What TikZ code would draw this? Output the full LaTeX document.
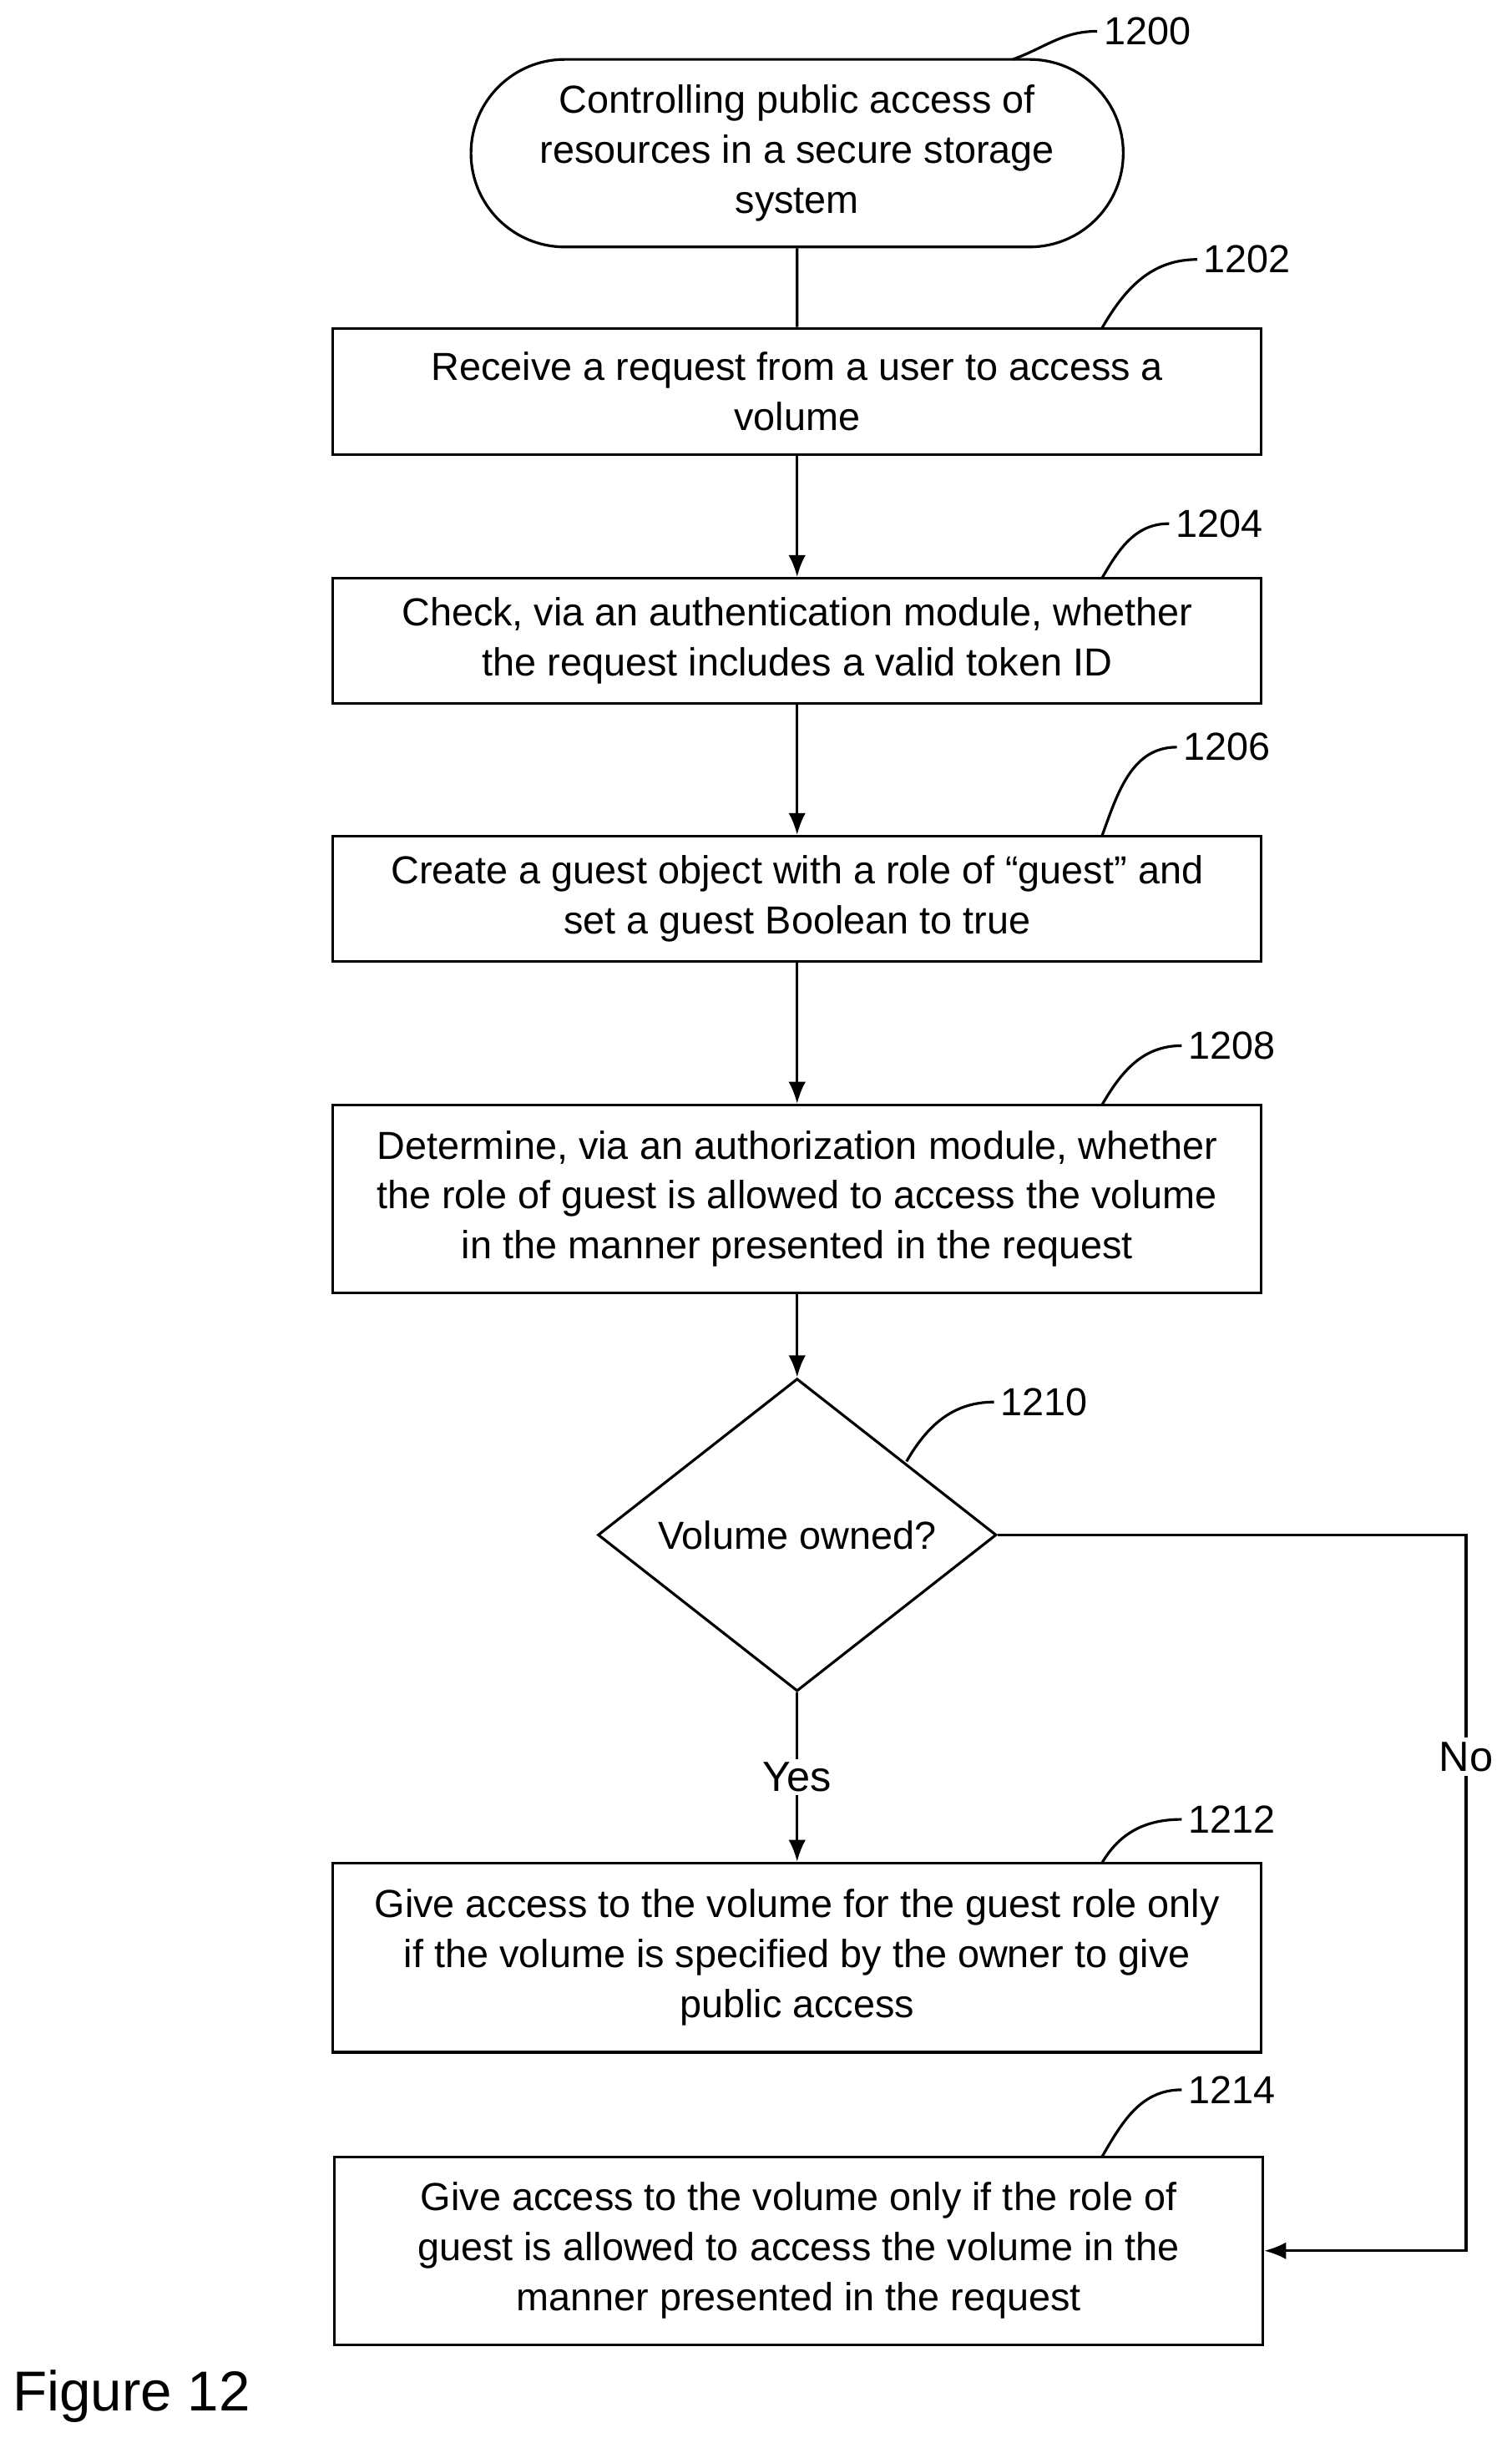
\documentclass[tikz,border=0pt]{standalone}
\usepackage{fontspec}
\setmainfont{Liberation Sans}
\usetikzlibrary{positioning,arrows.meta,shapes.geometric,shapes.misc}

\begin{document}
\begin{tikzpicture}[
    x=1pt, y=-1pt,
    >={Latex[length=14pt,width=11pt]},
    line width=1.7pt,
    font=\fontsize{25}{32}\selectfont,
    box/.style={
        draw,
        align=center,
        minimum width=594pt,
        inner sep=0pt
    },
    term/.style={
        draw,
        rounded rectangle,
        align=center,
        minimum width=424pt,
        minimum height=120pt
    },
    dec/.style={
        draw,
        diamond,
        aspect=1.275,
        minimum width=255pt,
        minimum height=200pt,
        inner sep=0pt
    },
    ref/.style={font=\fontsize{25}{28}\selectfont}
]
    \useasboundingbox (0,0) rectangle (967,1563);

    % Blocks
    \node[term] (start) at (510,98) {Controlling public access of\\resources in a secure storage\\system};
    \node[box, minimum height=81pt] (recv) at (510,250.5) {Receive a request from a user to access a\\volume};
    \node[box, minimum height=80pt] (check) at (510,410) {Check, via an authentication module, whether\\the request includes a valid token ID};
    \node[box, minimum height=80pt] (guest) at (510,575) {Create a guest object with a role of \textquotedblleft guest\textquotedblright\ and\\set a guest Boolean to true};
    \node[box, minimum height=120pt] (authz) at (510,767) {Determine, via an authorization module, whether\\the role of guest is allowed to access the volume\\in the manner presented in the request};
    \node[dec] (owned) at (510,982) {Volume owned?};
    \node[box, minimum height=121pt] (give) at (510,1252.5) {Give access to the volume for the guest role only\\if the volume is specified by the owner to give\\public access};
    \node[box, minimum height=120pt] (role) at (511,1440) {Give access to the volume only if the role of\\guest is allowed to access the volume in the\\manner presented in the request};
    \coordinate (noc) at (938,982);

    % Connectors
    \draw (start) -- (recv);
    \draw[->] (recv) -- (check);
    \draw[->] (check) -- (guest);
    \draw[->] (guest) -- (authz);
    \draw[->] (authz) -- (owned);
    \draw[->] (owned) -- node[fill=white, inner sep=2pt]{\fontsize{27}{30}\selectfont Yes} (give);
    \draw[->] (owned.east) -- (noc) -- node[fill=white, inner sep=3pt, pos=0.31]{\fontsize{27}{30}\selectfont No} (noc |- role.east) -- (role.east);

    % Reference numerals
    \node[ref, anchor=west] (n1200) at (702,20) {1200};
    \draw (648,38) to[out=20,in=180] (n1200.west);
    \node[ref, anchor=west] (n1202) at (766,166) {1202};
    \draw (705,210) to[out=60,in=180] (n1202.west);
    \node[ref, anchor=west] (n1204) at (748,335) {1204};
    \draw (705,370) to[out=60,in=180] (n1204.west);
    \node[ref, anchor=west] (n1206) at (753,478) {1206};
    \draw (705,535) to[out=70,in=180] (n1206.west);
    \node[ref, anchor=west] (n1208) at (756,669) {1208};
    \draw (705,707) to[out=60,in=180] (n1208.west);
    \node[ref, anchor=west] (n1210) at (636,897) {1210};
    \draw (580,935) to[out=60,in=180] (n1210.west);
    \node[ref, anchor=west] (n1212) at (756,1164) {1212};
    \draw (705,1192) to[out=60,in=180] (n1212.west);
    \node[ref, anchor=west] (n1214) at (756,1337) {1214};
    \draw (705,1380) to[out=60,in=180] (n1214.west);

    \node[anchor=west, font=\fontsize{36}{40}\selectfont] (fig) at (4,1533) {Figure 12};
\end{tikzpicture}
\end{document}
